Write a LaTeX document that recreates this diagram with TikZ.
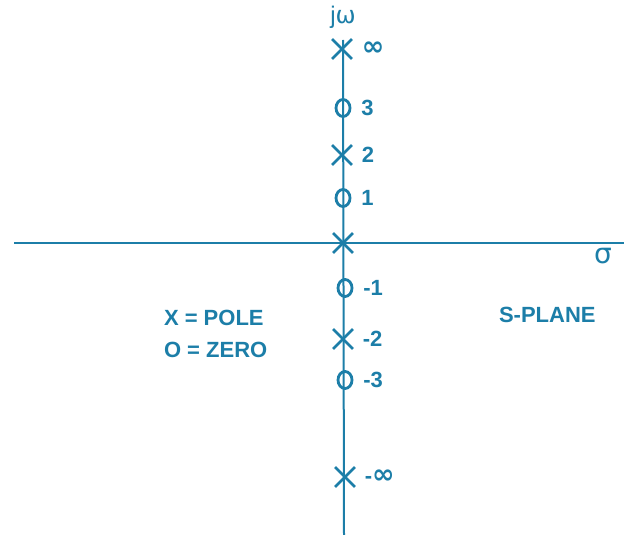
\documentclass[tikz,border=0pt]{standalone}
\usepackage{fontspec}
\setmainfont{Liberation Sans}
\newfontfamily\symfont{DejaVu Sans}
\usetikzlibrary{shapes.misc,shapes.geometric}
\definecolor{ink}{RGB}{28,126,168}
\newcommand{\infsym}{{\symfont\fontsize{27}{27}\selectfont ∞}}
\begin{document}
\begin{tikzpicture}[x=1pt,y=-1pt,
  ink, line width=2pt,
  txt/.style={text=ink,font=\fontsize{22}{24}\selectfont\bfseries,inner sep=0pt},
  pole/.style={cross out,draw=ink,line width=2.8pt,minimum width=17pt,minimum height=17pt,inner sep=0pt,
     label={[txt,anchor=west,xshift=9pt]east:#1}},
  zero/.style={ellipse,draw=ink,line width=2.8pt,minimum width=14pt,minimum height=17pt,inner sep=0pt,
     label={[txt,anchor=west,xshift=9pt]east:#1}}]
\useasboundingbox (0,0) rectangle (624,535);
\coordinate (vtop) at (343,40);
\coordinate (vbot) at (344,535);
\coordinate (hl) at (14,243);
\coordinate (hr) at (624,243);
\draw (hl) -- (hr);
\draw (vtop) -- (vbot);
\node[pole={\infsym}] (pinf) at (342,49) {};
\node[zero={3}] (z3) at (343,108) {};
\node[pole={2}] (p2) at (342,155) {};
\node[zero={1}] (z1) at (343,198) {};
\node[pole={}] (p0) at (343,243) {};
\node[zero={-1}] (zm1) at (345,288) {};
\node[pole={-2}] (pm2) at (343,339) {};
\node[zero={-3}] (zm3) at (345,380) {};
\node[pole={-\infsym}] (pminf) at (345,477) {};
\node[txt,font=\fontsize{24}{26}\selectfont] (jw) at (343,17) {j{\symfont ω}};
\node[txt,font=\fontsize{28}{28}\selectfont] (sigma) at (603,256) {\symfont σ};
\node[txt,anchor=west] (leg1) at (163,318) {X = POLE};
\node[txt,anchor=west] (leg2) at (163,350) {O = ZERO};
\node[txt,anchor=west] (splane) at (498,315) {S-PLANE};
\end{tikzpicture}
\end{document}
